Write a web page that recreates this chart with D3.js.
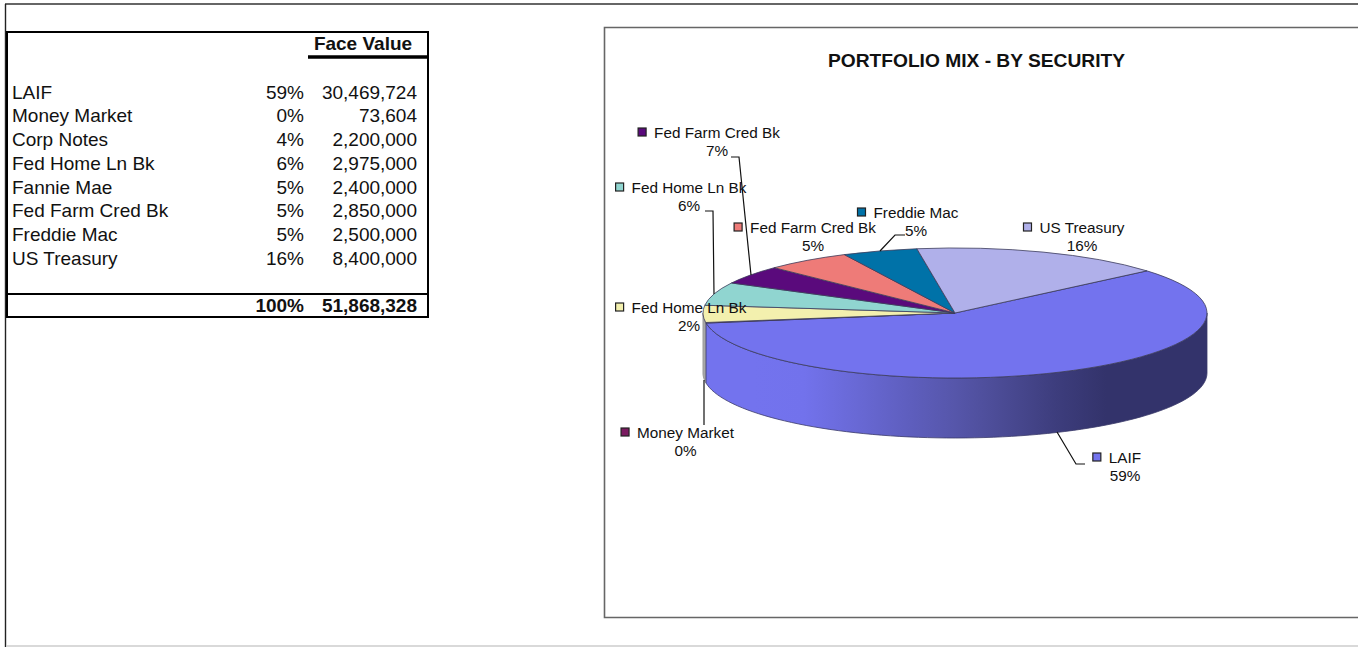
<!DOCTYPE html>
<html><head><meta charset="utf-8">
<style>html,body{margin:0;padding:0;background:#fff}svg{display:block}text{font-family:"Liberation Sans",Arial,sans-serif}</style>
<script src="https://cdn.jsdelivr.net/npm/d3@7"></script></head><body>
<script>
const rowNames=["LAIF","Money Market","Corp Notes","Fed Home Ln Bk","Fannie Mae","Fed Farm Cred Bk","Freddie Mac","US Treasury"];
const rowPct=["59%","0%","4%","6%","5%","5%","5%","16%"];
const faceValues=[30469724,73604,2200000,2975000,2400000,2850000,2500000,8400000];
const totalPct="100%";
const totalValue=51868328;
const chartTitle="PORTFOLIO MIX - BY SECURITY";
const sliceNames=["LAIF","Money Market","Fed Home Ln Bk","Fed Home Ln Bk","Fed Farm Cred Bk","Fed Farm Cred Bk","Freddie Mac","US Treasury"];
const slicePct=["59%","0%","2%","6%","7%","5%","5%","16%"];
const sliceColors=["#7373ee","#7a1a60","#f3f0ae","#90d5d0","#5a0a7c","#ee7b78","#0072a8","#b0b0ea"];
const labelAnchors=[[1125,463],[685.5,438],[689,313],[689,193],[717,138],[813,233],[916,218],[1082,233]];
const leaderPaths=[
 [[1057,432],[1076,464],[1085,464]],
 [[704,380],[704,425]],
 null,
 [[705,211],[713,211],[714,294]],
 [[731,157],[739,157],[751,275]],
 null,
 [[880,251],[895,235],[905,235]],
 null];

const W=1358,H=647;
const svg=d3.select("body").append("svg").attr("width",W).attr("height",H);
const fmt=d3.format(",");
const defs=svg.append("defs");

// page frame
const frame=svg.append("g");
frame.append("line").attr("x1",5).attr("x2",W).attr("y1",4).attr("y2",4).attr("stroke","#333").attr("stroke-width",1.6);
frame.append("line").attr("x1",5.5).attr("x2",5.5).attr("y1",4).attr("y2",647).attr("stroke","#222").attr("stroke-width",1.4);
frame.append("line").attr("x1",6).attr("x2",W).attr("y1",646).attr("y2",646).attr("stroke","#ccc").attr("stroke-width",1.4);

// table
const t=svg.append("g").style("font-size","19px").attr("fill","#111");
const rowY=d3.scaleLinear().domain([0,7]).range([98.5,265]);
const box=[[7,32],[428,32],[428,317],[7,317]];
t.append("path").attr("d",d3.line()(box)+"Z").attr("fill","none").attr("stroke","#000").attr("stroke-width",2);
t.append("line").attr("x1",308).attr("x2",428).attr("y1",57).attr("y2",57).attr("stroke","#000").attr("stroke-width",3.5);
t.append("line").attr("x1",7).attr("x2",428).attr("y1",294).attr("y2",294).attr("stroke","#000").attr("stroke-width",2);
t.append("text").attr("x",363).attr("y",50).attr("text-anchor","middle").attr("font-weight","bold").text("Face Value");
rowNames.forEach((n,i)=>{
  const y=rowY(i);
  t.append("text").attr("x",12).attr("y",y).text(n);
  t.append("text").attr("x",304).attr("y",y).attr("text-anchor","end").text(rowPct[i]);
  t.append("text").attr("x",417).attr("y",y).attr("text-anchor","end").text(fmt(faceValues[i]));
});
t.append("text").attr("x",304).attr("y",312).attr("text-anchor","end").attr("font-weight","bold").text(totalPct);
t.append("text").attr("x",417).attr("y",312).attr("text-anchor","end").attr("font-weight","bold").text(fmt(totalValue));

// chart frame
svg.append("path").attr("d",d3.line()([[W,27.5],[604.5,27.5],[604.5,617.5],[W,617.5]])).attr("fill","none").attr("stroke","#666").attr("stroke-width",1.6);
svg.append("text").attr("x",976.5).attr("y",67).attr("text-anchor","middle").attr("font-weight","bold").style("font-size","19.2px").attr("fill","#111").text(chartTitle);

// 3D pie
const cx=955,cy=313,rx=252,ry=65,depth=60;
const start=49.6*Math.PI/180;
const pie=d3.pie().sort(null).startAngle(start).endAngle(start+2*Math.PI);
const arcs=pie(faceValues);
const px=a=>cx+rx*Math.sin(a), py=a=>cy-ry*Math.cos(a);
const shade=d3.scaleLinear().domain([703,800,960,1095,1207]).range(["#7373ee","#7373ee","#5555a8","#33336b","#33336b"]);
const grad=defs.append("linearGradient").attr("id","sideGrad").attr("gradientUnits","userSpaceOnUse").attr("x1",703).attr("x2",1207).attr("y1",0).attr("y2",0);
d3.range(0,1.001,0.1).forEach(f=>grad.append("stop").attr("offset",f).attr("stop-color",shade(703+504*f)));

const sideG=svg.append("g");
// grey sliver of the side beyond the LAIF edge, drawn first
const rest=[arcs[0].endAngle,3*Math.PI/2];
const sl=d3.range(0,11).map(k=>rest[0]+(rest[1]-rest[0])*k/10);
sideG.append("path").attr("d",d3.line()(sl.map(a=>[px(a),py(a)]).concat(sl.slice().reverse().map(a=>[px(a),py(a)+depth])))+"Z").attr("fill","#a8a8a8").attr("stroke","#999");
const a0=Math.PI/2, a1=arcs[0].endAngle;
const pts=d3.range(0,81).map(k=>a0+(a1-a0)*k/80);
sideG.append("path").attr("d",d3.line()(pts.map(a=>[px(a),py(a)]).concat(pts.slice().reverse().map(a=>[px(a),py(a)+depth])))+"Z")
  .attr("fill","url(#sideGrad)").attr("stroke","#3a3a6a").attr("stroke-width",0.8);

const arcGen=d3.arc().innerRadius(0).outerRadius(rx);
svg.append("g").attr("transform",`translate(${cx},${cy}) scale(1,${ry/rx})`)
  .selectAll("path").data(arcs).join("path")
  .attr("d",arcGen).attr("fill",(d,i)=>sliceColors[i])
  .attr("stroke","#3c3c5c").attr("stroke-width",0.8).attr("vector-effect","non-scaling-stroke");

// leaders
svg.append("g").selectAll("path").data(leaderPaths.filter(Boolean)).join("path")
  .attr("d",d3.line()).attr("fill","none").attr("stroke","#111").attr("stroke-width",1.2);

// labels
const lab=svg.append("g").style("font-size","15.3px").attr("fill","#111");
sliceNames.forEach((n,i)=>{
  const [x,y]=labelAnchors[i];
  const txt=lab.append("text").attr("x",x).attr("y",y).attr("text-anchor","middle").text(n);
  const w=txt.node().getComputedTextLength();
  lab.append("text").attr("x",x).attr("y",y+18.3).attr("text-anchor","middle").text(slicePct[i]);
  lab.append("rect").attr("x",x-w/2-16).attr("y",y-10).attr("width",8).attr("height",8)
    .attr("fill",sliceColors[i]).attr("stroke","#222").attr("stroke-width",1.2);
});
</script></body></html>
